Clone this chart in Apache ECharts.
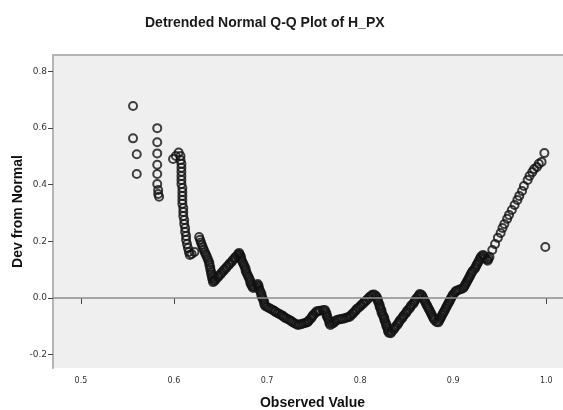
<!DOCTYPE html>
<html>
<head>
<meta charset="utf-8">
<script src="https://cdn.jsdelivr.net/npm/echarts@6/dist/echarts.min.js"></script>
<style>
  html, body { margin: 0; padding: 0; background: #fff; }
  #qq { width: 563px; height: 410px; }
</style>
</head>
<body>
<div id="qq"></div>
<script>

// scattered points left of 0.6
var leftPoints = [
  [0.556, 0.677], [0.556, 0.563], [0.560, 0.507], [0.560, 0.437],
  [0.582, 0.599], [0.582, 0.549], [0.582, 0.510], [0.582, 0.470], [0.582, 0.437],
  [0.582, 0.402], [0.583, 0.381], [0.583, 0.367], [0.584, 0.357]
];

// the steep column just after 0.6
var columnPoints = [
  [0.599, 0.490], [0.602, 0.501], [0.605, 0.513],
  [0.607, 0.501], [0.607, 0.487], [0.608, 0.473], [0.608, 0.459], [0.608, 0.445], [0.608, 0.430],
  [0.608, 0.416], [0.608, 0.402], [0.609, 0.388], [0.609, 0.374], [0.609, 0.360], [0.609, 0.346],
  [0.609, 0.332], [0.610, 0.317], [0.610, 0.303], [0.610, 0.289], [0.611, 0.275], [0.611, 0.261],
  [0.612, 0.247], [0.612, 0.233], [0.613, 0.219], [0.613, 0.205], [0.614, 0.190], [0.615, 0.176],
  [0.616, 0.162], [0.617, 0.152], [0.619, 0.155], [0.622, 0.162]
];

// dense band from 0.63 to 0.93
var bandPoints = [
  [0.627, 0.215], [0.628, 0.205], [0.629, 0.196], [0.630, 0.187], [0.631, 0.178], [0.632, 0.170],
  [0.633, 0.162], [0.634, 0.155], [0.635, 0.148], [0.636, 0.140], [0.637, 0.132], [0.638, 0.124],
  [0.638, 0.116], [0.639, 0.108], [0.639, 0.100], [0.640, 0.092], [0.640, 0.084], [0.641, 0.076],
  [0.641, 0.069], [0.642, 0.062], [0.642, 0.056],
  [0.644, 0.061], [0.645, 0.067], [0.647, 0.072], [0.648, 0.078], [0.650, 0.083], [0.651, 0.089],
  [0.653, 0.094], [0.654, 0.100], [0.656, 0.105], [0.657, 0.111], [0.659, 0.116], [0.660, 0.122],
  [0.662, 0.127], [0.663, 0.133], [0.665, 0.139], [0.666, 0.144], [0.668, 0.150], [0.669, 0.155],
  [0.670, 0.159],
  [0.671, 0.152], [0.672, 0.145], [0.672, 0.138], [0.673, 0.131], [0.674, 0.124], [0.675, 0.117],
  [0.676, 0.110], [0.677, 0.103], [0.677, 0.096], [0.678, 0.089], [0.679, 0.082], [0.680, 0.075],
  [0.681, 0.068], [0.682, 0.061], [0.682, 0.054], [0.683, 0.047], [0.684, 0.041], [0.685, 0.035],
  [0.687, 0.039], [0.689, 0.045], [0.690, 0.049],
  [0.691, 0.042], [0.691, 0.035], [0.692, 0.028], [0.693, 0.021], [0.694, 0.014], [0.694, 0.007],
  [0.695, 0.000], [0.696, -0.007], [0.697, -0.014], [0.697, -0.021], [0.698, -0.028],
  [0.700, -0.032], [0.702, -0.035], [0.704, -0.039], [0.706, -0.042], [0.708, -0.046], [0.709, -0.049],
  [0.711, -0.053], [0.713, -0.056], [0.715, -0.060], [0.717, -0.063], [0.718, -0.067], [0.720, -0.071],
  [0.722, -0.074], [0.724, -0.078], [0.726, -0.081], [0.727, -0.085], [0.729, -0.088], [0.731, -0.092],
  [0.733, -0.095],
  [0.735, -0.094], [0.737, -0.092], [0.739, -0.090], [0.741, -0.088], [0.743, -0.086], [0.744, -0.084],
  [0.745, -0.079], [0.747, -0.073], [0.748, -0.068], [0.749, -0.063], [0.750, -0.058], [0.752, -0.053],
  [0.753, -0.048], [0.755, -0.046], [0.757, -0.045], [0.760, -0.043], [0.762, -0.042],
  [0.763, -0.049], [0.764, -0.056], [0.764, -0.063], [0.765, -0.069], [0.766, -0.076], [0.767, -0.082],
  [0.767, -0.089], [0.768, -0.095],
  [0.770, -0.091], [0.772, -0.087], [0.773, -0.082], [0.775, -0.078],
  [0.777, -0.076], [0.779, -0.075], [0.781, -0.073], [0.783, -0.072], [0.785, -0.070], [0.787, -0.068],
  [0.789, -0.066],
  [0.790, -0.061], [0.792, -0.056], [0.793, -0.051], [0.795, -0.046], [0.796, -0.040], [0.798, -0.035],
  [0.800, -0.030], [0.801, -0.025], [0.803, -0.021], [0.804, -0.016], [0.806, -0.011], [0.807, -0.007],
  [0.809, -0.002], [0.810, 0.003], [0.812, 0.007], [0.813, 0.011], [0.815, 0.012], [0.817, 0.008],
  [0.818, 0.002], [0.819, -0.005], [0.819, -0.011], [0.820, -0.018], [0.821, -0.025], [0.821, -0.031],
  [0.822, -0.038], [0.823, -0.044], [0.823, -0.051], [0.824, -0.058], [0.825, -0.064], [0.826, -0.071],
  [0.826, -0.077], [0.827, -0.084], [0.828, -0.091], [0.828, -0.097], [0.829, -0.104], [0.830, -0.110],
  [0.830, -0.117], [0.831, -0.123], [0.833, -0.124],
  [0.834, -0.118], [0.836, -0.112], [0.837, -0.106], [0.838, -0.101], [0.840, -0.095], [0.841, -0.089],
  [0.842, -0.084], [0.843, -0.078], [0.845, -0.072], [0.846, -0.066], [0.847, -0.061], [0.849, -0.055],
  [0.850, -0.049], [0.851, -0.043], [0.853, -0.038], [0.854, -0.032], [0.855, -0.026], [0.857, -0.021],
  [0.858, -0.015], [0.859, -0.009], [0.860, -0.003], [0.862, 0.003], [0.863, 0.009], [0.864, 0.014],
  [0.866, 0.011],
  [0.867, 0.005], [0.868, -0.002], [0.869, -0.008], [0.870, -0.014], [0.871, -0.021], [0.872, -0.027],
  [0.873, -0.034], [0.874, -0.040], [0.875, -0.046], [0.876, -0.053], [0.877, -0.059], [0.878, -0.066],
  [0.879, -0.072], [0.880, -0.078], [0.882, -0.085], [0.884, -0.086],
  [0.885, -0.080], [0.886, -0.074], [0.887, -0.068], [0.888, -0.061], [0.889, -0.055], [0.890, -0.049],
  [0.891, -0.043], [0.892, -0.036], [0.893, -0.030], [0.894, -0.024], [0.895, -0.018], [0.896, -0.012],
  [0.897, -0.005], [0.898, 0.001], [0.899, 0.007], [0.900, 0.013], [0.902, 0.019], [0.903, 0.025],
  [0.905, 0.027], [0.907, 0.030], [0.909, 0.032], [0.911, 0.035],
  [0.912, 0.041], [0.913, 0.047], [0.914, 0.053], [0.915, 0.059], [0.916, 0.065], [0.917, 0.071],
  [0.918, 0.077], [0.919, 0.084], [0.920, 0.090], [0.921, 0.096], [0.923, 0.102], [0.924, 0.108],
  [0.925, 0.115], [0.926, 0.121], [0.927, 0.127], [0.928, 0.133], [0.929, 0.140], [0.930, 0.146],
  [0.932, 0.152], [0.933, 0.148], [0.934, 0.141], [0.936, 0.136], [0.937, 0.131], [0.938, 0.138],
  [0.939, 0.145]
];

// upper tail towards 1.0, plus the two points at the far right
var tailPoints = [
  [0.942, 0.169], [0.945, 0.190], [0.948, 0.212], [0.951, 0.229], [0.953, 0.247], [0.955, 0.261],
  [0.958, 0.279], [0.960, 0.293], [0.963, 0.310], [0.966, 0.328], [0.969, 0.346], [0.971, 0.360],
  [0.974, 0.377], [0.976, 0.395], [0.980, 0.416], [0.982, 0.430], [0.985, 0.444], [0.987, 0.455],
  [0.990, 0.462], [0.992, 0.473], [0.995, 0.480],
  [0.998, 0.511], [0.999, 0.180]
];

var xTicks = [0.5, 0.6, 0.7, 0.8, 0.9, 1.0];
var yTicks = [-0.2, 0.0, 0.2, 0.4, 0.6, 0.8];

var points = leftPoints.concat(columnPoints, bandPoints, tailPoints);

var chart = echarts.init(document.getElementById('qq'));

var option = {
    backgroundColor: '#fff',
    animation: false,
    title: {
        text: 'Detrended Normal Q-Q Plot of H_PX',
        left: 140,
        top: 11,
        textStyle: { fontFamily: 'Liberation Sans', fontSize: 14, fontWeight: 'bold', color: '#1a1a1a' }
    },
    grid: {
        left: 53, top: 55, right: 0, bottom: 42,
        outerBoundsMode: 'none',
        show: true, backgroundColor: '#efefef', borderWidth: 0
    },
    xAxis: [{
        type: 'value',
        min: 0.47, max: 1.018,
        name: 'Observed Value',
        nameLocation: 'middle',
        nameGap: 28,
        nameMoveOverlap: false,
        nameTextStyle: { fontFamily: 'Liberation Sans', fontSize: 14, fontWeight: 'bold', color: '#111', padding: [0, 0, 0, 9] },
        axisLine: { show: false },
        axisTick: { show: true, length: 6, customValues: xTicks, lineStyle: { color: '#444' } },
        axisLabel: {
            customValues: xTicks, margin: 9,
            fontFamily: 'DejaVu Sans', fontSize: 8, color: '#333',
            formatter: function (v) { return v.toFixed(1); }
        },
        splitLine: { show: false }
    }, {
        type: 'value', position: 'top',
        min: 0.47, max: 1.018,
        axisLine: { show: true, lineStyle: { color: '#b4b4b4', width: 2 } },
        axisTick: { show: false }, axisLabel: { show: false }, splitLine: { show: false }
    }],
    yAxis: {
        type: 'value',
        min: -0.247, max: 0.857,
        name: 'Dev from Normal',
        nameLocation: 'middle',
        nameGap: 28,
        nameMoveOverlap: false,
        nameTextStyle: { fontFamily: 'Liberation Sans', fontSize: 14, fontWeight: 'bold', color: '#111' },
        axisLine: { show: true, lineStyle: { color: '#b4b4b4', width: 2 } },
        axisTick: { show: true, length: 5, customValues: yTicks, lineStyle: { color: '#444' } },
        axisLabel: {
            customValues: yTicks, margin: 6,
            fontFamily: 'DejaVu Sans', fontSize: 9, color: '#333',
            formatter: function (v) { return v.toFixed(1); }
        },
        splitLine: { show: false }
    },
    series: [{
        type: 'scatter',
        data: points,
        symbol: 'circle',
        symbolSize: 8,
        itemStyle: { color: 'rgba(0,0,0,0)', borderColor: '#111', borderWidth: 2 },
        markLine: {
            silent: true,
            symbol: 'none',
            label: { show: false },
            lineStyle: { color: '#8c8c8c', width: 1.5, type: 'solid' },
            data: [{ yAxis: 0 }]
        }
    }]
};

chart.setOption(option);
</script>
</body>
</html>
